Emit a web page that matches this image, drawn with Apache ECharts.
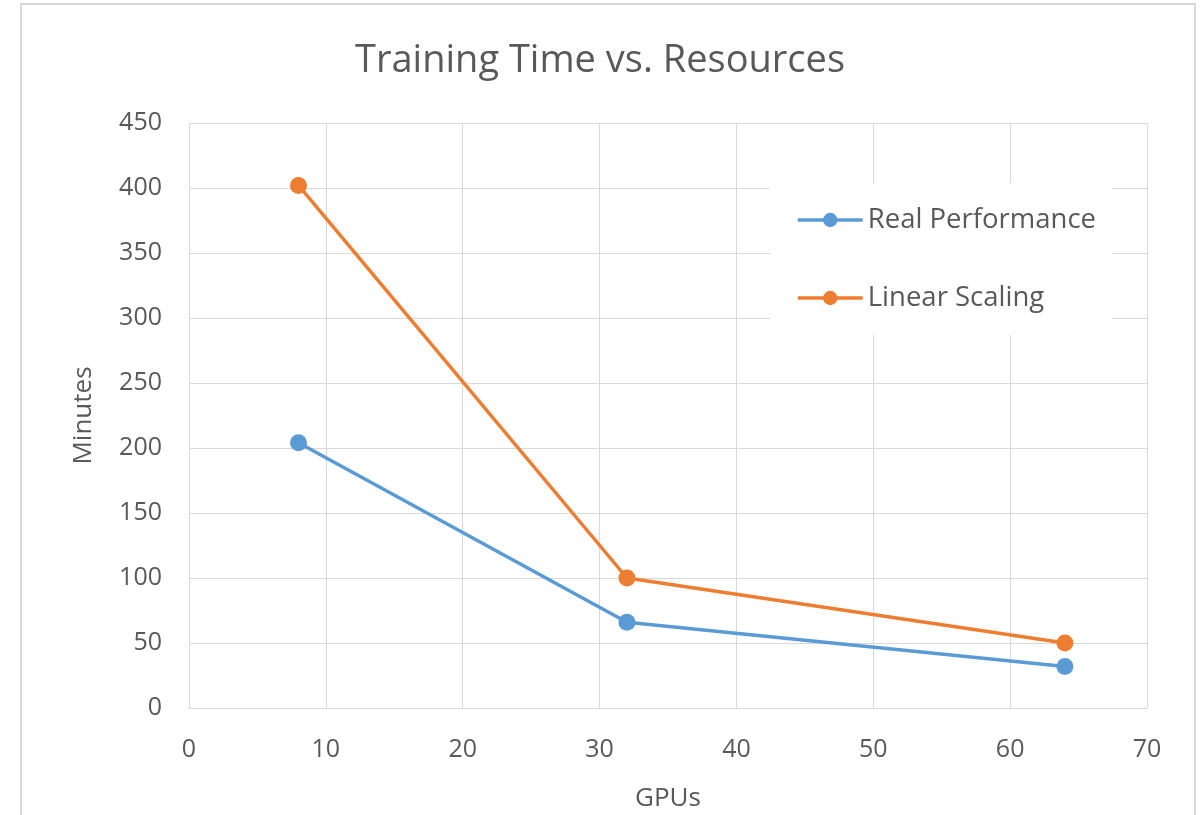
<!DOCTYPE html>
<html>
<head>
<meta charset="utf-8">
<script src="https://cdn.jsdelivr.net/npm/echarts@6/dist/echarts.min.js"></script>
<style>
html,body{margin:0;padding:0;background:#fff;}
#chart{width:1200px;height:815px;}
</style>
</head>
<body>
<div id="chart"></div>
<script>
const gpus = [8, 32, 64];
const realPerformance = [204, 66, 32];
const linearScaling = [402, 100, 50];
const seriesNames = ['Real Performance', 'Linear Scaling'];
const titleText = 'Training Time vs. Resources';
const xName = 'GPUs';
const yName = 'Minutes';

const font = 'Open Sans';
const chart = echarts.init(document.getElementById('chart'));
chart.setOption({
  animation: false,
  backgroundColor: '#fff',
  graphic: [{
    type: 'rect',
    shape: {x: 21, y: 4, width: 1174, height: 830},
    style: {fill: 'none', stroke: '#d9d9d9', lineWidth: 2},
    silent: true
  }],
  title: {
    text: titleText,
    left: 'center',
    top: 37,
    textStyle: {fontFamily: font, fontSize: 38, fontWeight: 'normal', color: '#595959'}
  },
  legend: {
    orient: 'vertical',
    left: 770,
    top: 183,
    padding: [23, 16, 23, 26],
    backgroundColor: '#fff',
    itemWidth: 65,
    itemHeight: 18,
    itemGap: 50,
    lineStyle: {width: 3.5},
    textStyle: {fontFamily: font, fontSize: 27.5, color: '#595959'},
    data: seriesNames
  },
  grid: {left: 189, right: 53, top: 123, bottom: 107, outerBoundsMode: 'none'},
  xAxis: {
    type: 'value',
    min: 0, max: 70, interval: 10,
    name: xName,
    nameLocation: 'middle',
    nameGap: 78,
    nameTextStyle: {fontFamily: font, fontSize: 26, color: '#595959'},
    axisLine: {show: true, lineStyle: {color: '#d9d9d9', width: 1}},
    axisTick: {show: false},
    axisLabel: {margin: 29, fontFamily: font, fontSize: 25, color: '#595959'},
    splitLine: {show: true, lineStyle: {color: '#d9d9d9', width: 1}}
  },
  yAxis: {
    type: 'value',
    min: 0, max: 450, interval: 50,
    name: yName,
    nameLocation: 'middle',
    nameGap: 92,
    nameTextStyle: {fontFamily: font, fontSize: 26, color: '#595959'},
    axisLine: {show: false},
    axisTick: {show: false},
    axisLabel: {margin: 27, fontFamily: font, fontSize: 25, color: '#595959'},
    splitLine: {show: true, lineStyle: {color: '#d9d9d9', width: 1}}
  },
  series: [
    {
      name: seriesNames[0],
      type: 'line',
      data: gpus.map((g, i) => [g, realPerformance[i]]),
      symbol: 'circle',
      symbolSize: 17,
      lineStyle: {color: '#5b9bd5', width: 3.5},
      itemStyle: {color: '#5b9bd5'},
      z: 3
    },
    {
      name: seriesNames[1],
      type: 'line',
      data: gpus.map((g, i) => [g, linearScaling[i]]),
      symbol: 'circle',
      symbolSize: 17,
      lineStyle: {color: '#ed7d31', width: 3.5},
      itemStyle: {color: '#ed7d31'},
      z: 3
    }
  ]
});
</script>
</body>
</html>
